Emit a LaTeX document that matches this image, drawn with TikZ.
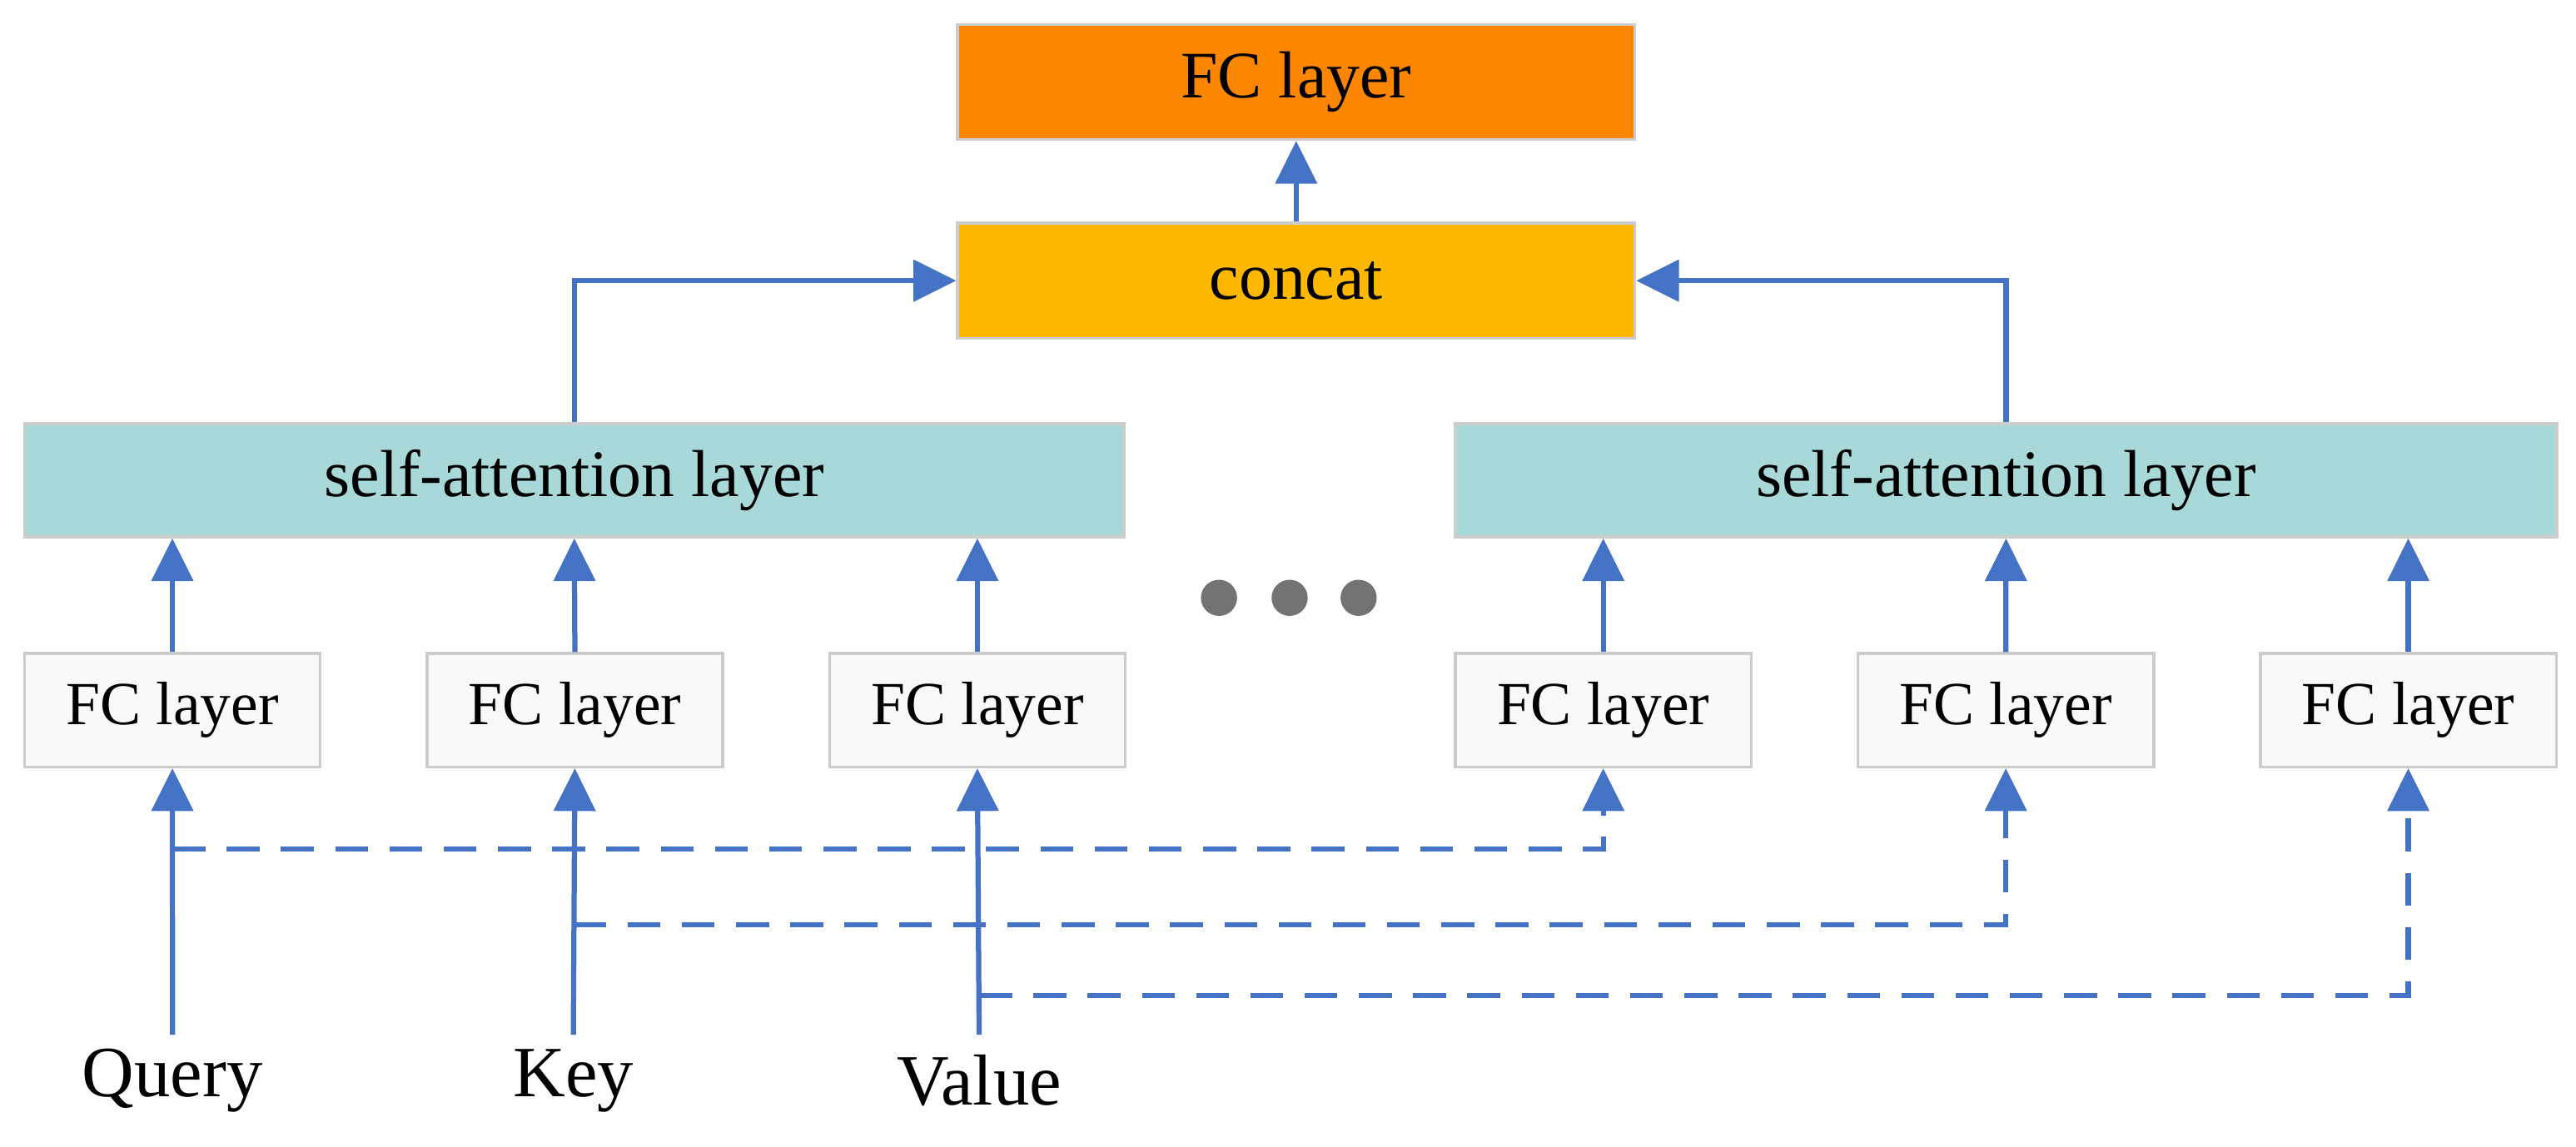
\documentclass[tikz,border=0pt]{standalone}
\usepackage{fontspec}
\setmainfont{Liberation Serif}
\usetikzlibrary{arrows.meta}
\definecolor{ab}{HTML}{4472C4}
\begin{document}
\begin{tikzpicture}[x=0.01cm,y=-0.01cm,
  box/.style={draw=gray!40,line width=0.5pt,inner sep=0,anchor=north west},
  fc/.style={box,fill=green!5!gray!5,minimum width=1.8cm,minimum height=0.69cm,font=\fontsize{10.6}{12}\selectfont},
  arr/.style={draw=ab,line width=0.9pt,-{Triangle[width=0.25cm,length=0.26cm]}},
  dsh/.style={arr,dash pattern=on 0.2cm off 0.13cm},
  lbl/.style={font=\fontsize{12.5}{14}\selectfont}]
\useasboundingbox (0,0) rectangle (1568,698);
\node[box,fill={rgb,255:red,253;green,134;blue,0},minimum width=4.12cm,minimum height=0.7cm,font=\fontsize{11.5}{13}\selectfont] (fc) at (582,14) {FC layer};
\node[box,fill={rgb,255:red,255;green,184;blue,0},minimum width=4.12cm,minimum height=0.7cm,font=\fontsize{11.5}{13}\selectfont] (cc) at (582,135) {concat};
\node[box,fill={rgb,255:red,168;green,216;blue,216},minimum width=6.69cm,minimum height=0.69cm,font=\fontsize{11.5}{13}\selectfont] (sa1) at (14,257) {self-attention layer};
\node[box,fill={rgb,255:red,168;green,216;blue,216},minimum width=6.70cm,minimum height=0.69cm,font=\fontsize{11.5}{13}\selectfont] (sa2) at (885,257) {self-attention layer};
\foreach \n/\x in {f1/14,f2/259,f3/504,f4/885,f5/1130,f6/1375}
  \node[fc] (\n) at (\x,397) {FC layer};
\foreach \x/\n in {742/d1,785/d2,827/d3} \fill[gray!90!black] (\x,364) circle (0.11cm) coordinate (\n);
\node[lbl] (q) at (105,658) {Query};
\node[lbl] (k) at (349,658) {Key};
\node[lbl] (v) at (596,658) {Value};
\coordinate (qb) at (105,630);\coordinate (kb) at (349,630);\coordinate (vb) at (596,630);
\draw[arr] (qb) -- (f1.south);
\draw[arr] (kb) -- (f2.south);
\draw[arr] (vb) -- (f3.south);
\draw[dsh] (105,517) -| (f4.south);
\draw[dsh] (349,563) -| (f5.south);
\draw[dsh] (596,606) -| (f6.south);
\draw[arr] (f1.north) -- (f1.north|-sa1.south);
\draw[arr] (f4.north) -- (f4.north|-sa2.south);
\draw[arr] (f2.north) -- (sa1.south); \draw[arr] (f5.north) -- (sa2.south);
\draw[arr] (f3.north) -- (f3.north|-sa1.south); \draw[arr] (f6.north) -- (f6.north|-sa2.south);
\draw[arr] (sa1.north) |- (cc.west);
\draw[arr] (sa2.north) |- (cc.east);
\draw[arr] (cc.north) -- (fc.south);
\end{tikzpicture}
\end{document}
